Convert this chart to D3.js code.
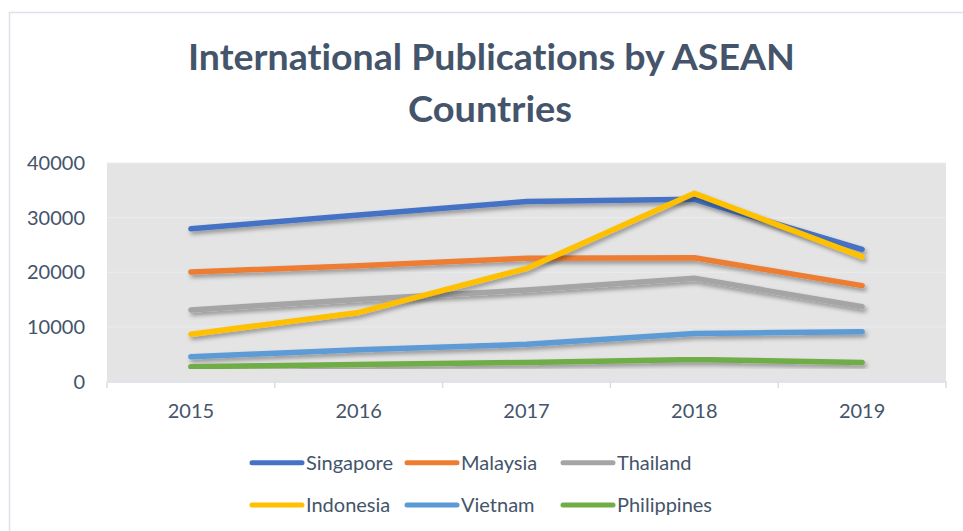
<!DOCTYPE html>
<html><head><meta charset="utf-8">
<script src="https://cdn.jsdelivr.net/npm/d3@7"></script>
<style>body{margin:0;background:#fff}svg{display:block}text{font-variant-ligatures:none;font-feature-settings:"liga" 0,"clig" 0}</style>
</head><body>
<svg id="c" width="963" height="531"></svg>
<script>
const years = ["2015","2016","2017","2018","2019"];
const yTicks = [0,10000,20000,30000,40000];
const seriesNames = ["Singapore","Malaysia","Thailand","Indonesia","Vietnam","Philippines"];
const singapore   = [27950,30500,32950,33350,24200];
const malaysia    = [20050,21200,22550,22650,17550];
const thailand    = [13100,15000,16750,18900,13700];
const indonesia   = [8650,12650,20700,34450,22850];
const vietnam     = [4550,5800,6800,8800,9100];
const philippines = [2700,3100,3500,4050,3500];
const colors = ["#4472C4","#ED7D31","#A5A5A5","#FFC000","#5B9BD5","#70AD47"];
const values = [singapore,malaysia,thailand,indonesia,vietnam,philippines];

const svg = d3.select("#c");
const txt = "#44546A";
const font = "Lato, 'Open Sans', sans-serif";

// outer chart border
svg.append("path").attr("d","M9.5,531 V12.5 H963").attr("fill","none").attr("stroke","#dde2ea").attr("stroke-width",1.5);

// title
const title = svg.append("g").attr("font-family",font).attr("font-weight","bold").attr("fill",txt).attr("font-size",37).attr("text-anchor","middle");
title.append("text").attr("x",491.5).attr("y",70).attr("textLength",607).attr("lengthAdjust","spacingAndGlyphs").text("International Publications by ASEAN");
title.append("text").attr("x",490).attr("y",121.5).attr("textLength",164).attr("lengthAdjust","spacingAndGlyphs").text("Countries");

const x = d3.scaleBand().domain(years).range([107,946]);
const y = d3.scaleLinear().domain([0,40000]).range([381.5,163]);

// plot bg
svg.append("rect").attr("x",107).attr("y",163).attr("width",839).attr("height",381.5-163).attr("fill","#e4e4e4");

// gridlines
svg.append("g").selectAll("line").data(yTicks.slice(1)).join("line")
  .attr("x1",107).attr("x2",946).attr("y1",d=>y(d)).attr("y2",d=>y(d))
  .attr("stroke","#e9ecf1").attr("stroke-width",1);

// y labels
svg.append("g").selectAll("text").data(yTicks).join("text")
  .attr("x",85).attr("y",d=>y(d)).attr("dy","0.36em").attr("text-anchor","end")
  .attr("font-family",font).attr("font-size",20).attr("fill",txt).text(d=>d);

// x axis
const xa = svg.append("g").attr("transform","translate(0,381.5)")
  .call(d3.axisBottom(x).tickSize(0).tickPadding(0).tickFormat(()=>""));
xa.select(".domain").attr("stroke","#d9dee6").attr("stroke-width",1.5);
xa.selectAll(".tick").remove();
const bounds = years.map(d=>x(d)).concat([x.range()[1]]);
svg.append("g").selectAll("line").data(bounds).join("line")
  .attr("x1",d=>d).attr("x2",d=>d).attr("y1",381.5).attr("y2",388)
  .attr("stroke","#d9dee6").attr("stroke-width",1.5);
svg.append("g").selectAll("text").data(years).join("text")
  .attr("x",d=>x(d)+x.bandwidth()/2).attr("y",418).attr("text-anchor","middle")
  .attr("font-family",font).attr("font-size",20).attr("fill",txt).text(d=>d);

// shadow filter
const defs = svg.append("defs");
const f = defs.append("filter").attr("id","sh").attr("x","-10%").attr("y","-30%").attr("width","120%").attr("height","160%");
f.append("feDropShadow").attr("dx",2).attr("dy",3).attr("stdDeviation",2).attr("flood-color","#000").attr("flood-opacity",0.35);

const line = d3.line().x((d,i)=>x(years[i])+x.bandwidth()/2).y(d=>y(d));
svg.append("g").selectAll("path").data(values).join("path")
  .attr("d",line).attr("fill","none").attr("stroke",(d,i)=>colors[i])
  .attr("stroke-width",5.5).attr("stroke-linecap","round").attr("stroke-linejoin","round")
  .attr("filter","url(#sh)");

// legend
const legX = [252,407,563];
const legY = [462.7,505];
const lg = svg.append("g").selectAll("g").data(seriesNames).join("g")
  .attr("transform",(d,i)=>`translate(${legX[i%3]},${legY[Math.floor(i/3)]})`);
lg.append("line").attr("x1",0).attr("x2",50).attr("stroke",(d,i)=>colors[i]).attr("stroke-width",5).attr("stroke-linecap","round");
lg.append("text").attr("x",54).attr("dy","0.36em").attr("font-family",font).attr("font-size",20).attr("fill",txt).text(d=>d);
</script>
</body></html>
